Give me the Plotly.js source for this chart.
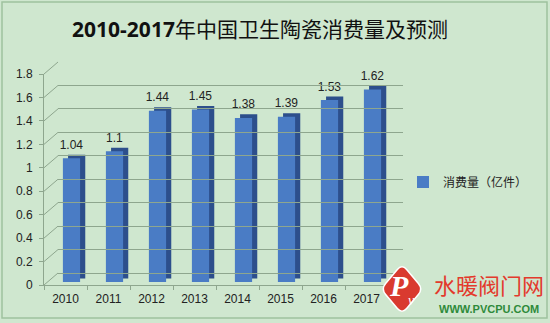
<!DOCTYPE html>
<html>
<head>
<meta charset="utf-8">
<script src="https://cdn.plot.ly/plotly-3.0.1.min.js"></script>
<style>html,body{margin:0;padding:0;background:#cfe7cf;}#chart{width:550px;height:323px;}</style>
</head>
<body>
<div id="chart"></div>
<script>
// ---- data ----
const categories = ['2010', '2011', '2012', '2013', '2014', '2015', '2016', '2017'];
const values = [1.04, 1.1, 1.44, 1.45, 1.38, 1.39, 1.53, 1.62];
const seriesName = '消费量（亿件）';
const titleText = '<b>2010-2017</b>年中国卫生陶瓷消费量及预测';
const yTickValues = [0, 0.2, 0.4, 0.6, 0.8, 1, 1.2, 1.4, 1.6, 1.8];

// ---- style ----
const W = 550, H = 323;
const X = px => px / W;
const Y = py => 1 - py / H;
const YMAX = 1.8;
const bg = '#cfe7cf';
const gridColor = '#8ea68e';
const frontColor = '#4a7cc5';
const sideColor = '#2d4f8c';
const barW = 0.4, sideShift = 0.12, topRise = 0.03;
const cjk = '"Noto Sans CJK SC", sans-serif';
const latin = '"Liberation Sans", "Noto Sans CJK SC", sans-serif';

const frontX = [X(44), X(388)], frontY = [Y(285), Y(74)];
const barX = [X(50), X(394)], barY = [Y(282), Y(68)];
const backX = [X(58), X(403)], backY = [Y(273), Y(62)];

const traces = [
  { type: 'scatter', x: categories, y: values, xaxis: 'x', yaxis: 'y', mode: 'markers',
    marker: { opacity: 0 }, hoverinfo: 'skip', showlegend: false },
  { type: 'scatter', x: categories, y: values, xaxis: 'x3', yaxis: 'y3', mode: 'markers',
    marker: { opacity: 0 }, hoverinfo: 'skip', showlegend: false },
  { type: 'bar', x: categories, y: values, base: topRise, width: barW, offset: -barW / 2 + sideShift,
    xaxis: 'x2', yaxis: 'y2', marker: { color: sideColor }, hoverinfo: 'skip', showlegend: false },
  { type: 'bar', x: categories, y: values, width: barW, offset: -barW / 2, name: seriesName,
    xaxis: 'x2', yaxis: 'y2', marker: { color: frontColor } },
  { type: 'bar', x: categories, y: values, base: topRise, width: barW, offset: -barW / 2,
    xaxis: 'x2', yaxis: 'y2', marker: { color: 'rgba(0,0,0,0)' }, hoverinfo: 'skip', showlegend: false,
    text: values.map(String), textposition: 'outside', cliponaxis: false, constraintext: 'none',
    textfont: { family: latin, size: 12, color: '#222' } }
];

const shapes = [];
// slanted connectors from front axis to back wall
yTickValues.forEach(v => {
  const f = v / YMAX;
  shapes.push({ type: 'line', xref: 'paper', yref: 'paper', layer: 'below',
    x0: frontX[0], y0: frontY[0] + f * (frontY[1] - frontY[0]),
    x1: backX[0], y1: backY[0] + f * (backY[1] - backY[0]),
    line: { color: gridColor, width: 1 } });
});
// outer frame
shapes.push({ type: 'rect', xref: 'paper', yref: 'paper', x0: X(2), x1: X(547), y0: Y(318), y1: Y(2),
  line: { color: '#9fc29f', width: 1.5 }, layer: 'below' });
// logo diamond
const cx = 402, cy = 289, rx = 21, ry = 25;
const pts = [[cx, cy - ry], [cx + rx, cy], [cx, cy + ry], [cx - rx, cy]];
let path = '';
for (let i = 0; i < 4; i++) {
  const p = pts[i], n = pts[(i + 1) % 4], pr = pts[(i + 3) % 4];
  const a = [p[0] + (pr[0] - p[0]) * 0.22, p[1] + (pr[1] - p[1]) * 0.22];
  const b = [p[0] + (n[0] - p[0]) * 0.22, p[1] + (n[1] - p[1]) * 0.22];
  path += (i === 0 ? 'M' : 'L') + X(a[0]) + ',' + Y(a[1]) + ' Q' + X(p[0]) + ',' + Y(p[1]) + ' ' + X(b[0]) + ',' + Y(b[1]) + ' ';
}
path += 'Z';
shapes.push({ type: 'path', xref: 'paper', yref: 'paper', path: path, fillcolor: '#d93a2f',
  line: { color: '#ffffff', width: 1.5 }, layer: 'above' });

const layout = {
  width: W, height: H,
  margin: { l: 0, r: 0, t: 0, b: 0 },
  paper_bgcolor: bg, plot_bgcolor: 'rgba(0,0,0,0)',
  barmode: 'overlay',
  showlegend: true,
  title: { text: titleText, x: X(260), xanchor: 'center', y: Y(30), yanchor: 'middle',
    font: { family: '"Open Sans", "Noto Sans CJK SC", sans-serif', size: 21, color: '#111' } },
  legend: { x: X(403), y: Y(182), xanchor: 'left', yanchor: 'middle', bgcolor: 'rgba(0,0,0,0)',
    font: { family: cjk, size: 12, color: '#222' }, itemclick: false },
  xaxis: { domain: frontX, anchor: 'y', type: 'category', range: [-0.5, 7.5], showgrid: false,
    showline: true, linecolor: gridColor, ticks: 'outside', tickson: 'boundaries', ticklen: 4,
    tickcolor: gridColor, tickfont: { family: latin, size: 12, color: '#222' }, ticklabelstandoff: 3,
    fixedrange: true },
  yaxis: { domain: frontY, anchor: 'x', range: [0, YMAX], tickvals: yTickValues, showgrid: false,
    zeroline: false, showline: true, linecolor: gridColor, ticks: 'outside', ticklen: 4,
    tickcolor: gridColor, tickfont: { family: latin, size: 12, color: '#222' }, ticklabelstandoff: 4,
    fixedrange: true },
  xaxis2: { domain: barX, anchor: 'y2', type: 'category', range: [-0.5, 7.5], visible: false, fixedrange: true },
  yaxis2: { domain: barY, anchor: 'x2', range: [0, YMAX], visible: false, fixedrange: true },
  xaxis3: { domain: backX, anchor: 'y3', type: 'category', range: [-0.5, 7.5], visible: false, fixedrange: true },
  yaxis3: { domain: backY, anchor: 'x3', range: [0, YMAX], tickvals: yTickValues, showgrid: true,
    gridcolor: gridColor, gridwidth: 1, zeroline: true, zerolinecolor: gridColor, zerolinewidth: 1,
    showticklabels: false, ticks: '', fixedrange: true },
  shapes: shapes,
  annotations: [
    { xref: 'paper', yref: 'paper', x: X(489), y: Y(284), text: '水暖阀门网', showarrow: false,
      font: { family: cjk, size: 22, color: '#e33a2c' }, xanchor: 'center', yanchor: 'middle' },
    { xref: 'paper', yref: 'paper', x: X(489), y: Y(309), text: '<b>WWW.PVCPU.COM</b>', showarrow: false,
      font: { family: latin, size: 11, color: '#2e8a3a' }, xanchor: 'center', yanchor: 'middle' },
    { xref: 'paper', yref: 'paper', x: X(399), y: Y(285), text: '<b><i>P</i></b>', showarrow: false,
      font: { family: '"Liberation Serif", serif', size: 30, color: '#ffffff' }, xanchor: 'center', yanchor: 'middle' },
    { xref: 'paper', yref: 'paper', x: X(411), y: Y(300), text: '<i>v</i>', showarrow: false,
      font: { family: '"Liberation Serif", serif', size: 14, color: '#ffffff' }, xanchor: 'center', yanchor: 'middle' }
  ]
};

Plotly.newPlot('chart', traces, layout, { displayModeBar: false, staticPlot: true });
</script>
</body>
</html>
